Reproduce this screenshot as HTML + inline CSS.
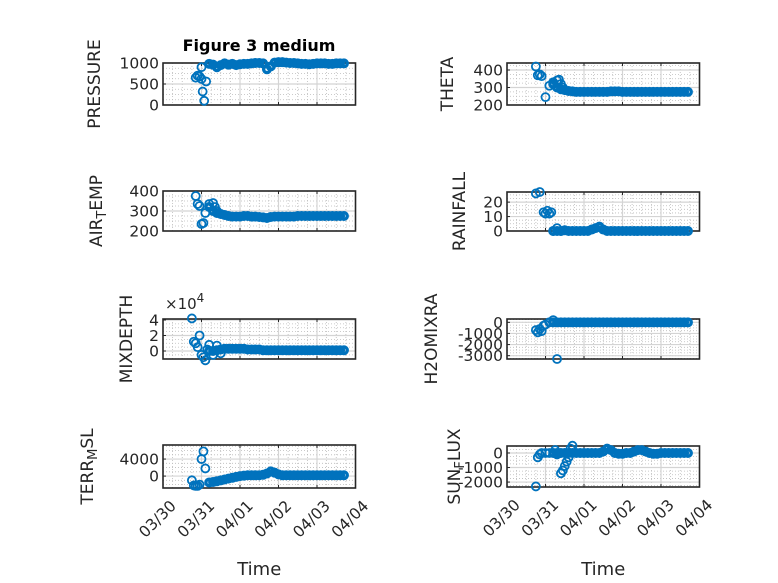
<!DOCTYPE html>
<html><head><meta charset="utf-8"><style>
html,body{margin:0;padding:0;background:#fff;}
svg{display:block;font-family:"DejaVu Sans","Liberation Sans",sans-serif;}
</style></head><body>
<svg id="fig" width="778" height="583" viewBox="0 0 778 583" xmlns="http://www.w3.org/2000/svg">
<rect width="778" height="583" fill="#fff"/>
<text x="259" y="51" text-anchor="middle" font-size="16" font-weight="bold" fill="#000">Figure 3 medium</text>
</svg>
<script>
// shared time axis (days since 03/30)
const xTickLabels = ["03/30","03/31","04/01","04/02","04/03","04/04"];
const denseTimes = [1.2,1.3,1.4,1.5,1.6,1.7,1.8,1.9,2.0,2.1,2.2,2.3,2.4,2.5,2.6,2.7,2.8,2.9,3.0,3.1,3.2,3.3,3.4,3.5,3.6,3.7,3.8,3.9,4.0,4.1,4.2,4.3,4.4,4.5,4.6,4.7];

const pressureEarlyT = [0.85,0.9,0.95,1.0,1.03,1.07,1.12,1.0];
const pressureEarlyV = [650,700,680,620,320,100,560,900];
const pressureDense = [980,960,900,950,990,960,980,950,970,980,980,990,1000,1000,990,850,920,1010,1020,1020,1010,1000,1000,990,980,980,970,980,990,990,990,980,980,990,990,990];

const airEarlyT = [0.85,0.9,0.95,1.0,1.05,1.1,1.2,1.3,1.35,1.4];
const airEarlyV = [375,335,325,235,240,290,335,340,320,300];
const airDense = [320,300,290,285,280,275,272,272,272,275,275,272,272,270,268,265,270,272,272,272,272,272,272,275,275,275,275,275,275,275,275,275,275,275,275,275];

const mixEarlyT = [0.75,0.8,0.85,0.9,0.95,1.0,1.05,1.1,1.15,1.2,1.3,1.4,1.5];
const mixEarlyV = [4.2,1.2,1.0,0.5,2.0,-0.5,-0.8,-1.2,0.2,0.8,-0.5,0.7,-0.3];
const mixDense = [0,0,0.1,0.2,0.3,0.3,0.3,0.3,0.3,0.3,0.2,0.2,0.2,0.2,0.1,0.1,0.1,0.1,0.1,0.1,0.1,0.1,0.1,0.1,0.1,0.1,0.1,0.1,0.1,0.1,0.1,0.1,0.1,0.1,0.1,0.1];

const terrEarlyT = [0.75,0.8,0.85,0.9,0.95,1.0,1.05,1.1];
const terrEarlyV = [-1000,-2200,-2300,-2300,-2000,4000,5800,1800];
const terrDense = [-1500,-1400,-1200,-1000,-800,-600,-400,-200,0,100,200,200,200,200,300,600,1100,800,400,200,200,200,200,200,200,200,200,200,200,200,200,200,200,200,200,200];

const thetaEarlyT = [0.75,0.8,0.85,0.9,1.0,1.1,1.2,1.3,1.35,1.4,1.45];
const thetaEarlyV = [420,370,375,365,245,310,330,340,345,320,300];
const thetaDense = [320,300,290,285,280,278,275,275,275,275,275,275,275,275,275,278,278,278,275,275,275,275,275,275,275,275,275,275,275,275,275,275,275,275,275,275];

const rainEarlyT = [0.75,0.85,0.95,1.0,1.05,1.1,1.15,1.2,1.3,1.4];
const rainEarlyV = [26,27,13,12,14,12,13,0,2,0];
const rainDense = [0,0,0,0.5,0,0,0,0,0,0,1,2,3,1,0,0,0,0,0,0,0,0,0,0,0,0,0,0,0,0,0,0,0,0,0,0];

const h2oEarlyT = [0.75,0.8,0.85,0.9,0.95,1.0,1.1,1.2,1.3];
const h2oEarlyV = [-700,-900,-600,-800,-300,-200,0,200,-3300];
const h2oDense = [0,0,0,0,0,0,0,0,0,0,0,0,0,0,0,0,0,0,0,0,0,0,0,0,0,0,0,0,0,0,0,0,0,0,0,0];

const sunEarlyT = [0.75,0.8,0.85,0.9,1.0,1.1,1.25,1.3,1.4,1.45,1.5,1.55,1.6,1.65,1.7];
const sunEarlyV = [-2300,-300,-100,0,0,0,200,-100,-1400,-1200,-900,-600,-300,300,500];
const sunDense = [0,0,0,0,0,0,0,0,0,0,0,0,0,100,300,200,0,-50,-50,0,0,100,200,200,100,0,-50,-50,0,0,0,0,0,0,0,0];

const NS="http://www.w3.org/2000/svg";
const svg=document.getElementById('fig');
function mk(tag,attrs,parent){const e=document.createElementNS(NS,tag);for(const k in attrs)e.setAttribute(k,attrs[k]);(parent||svg).appendChild(e);return e;}

const panels=[
 {name:'pressure',x0:163,y0:63,y1:105,ymin:0,ymax:1000,ticks:[0,500,1000],label:['PRESSURE'],lx:95,eT:pressureEarlyT,eV:pressureEarlyV,d:pressureDense,bottom:false},
 {name:'air-temp',x0:163,y0:191,y1:231,ymin:200,ymax:400,ticks:[200,300,400],label:['AIR','T','EMP'],lx:97,eT:airEarlyT,eV:airEarlyV,d:airDense,bottom:false},
 {name:'mixdepth',x0:163,y0:319,y1:359,ymin:-1.03,ymax:4.13,ticks:[0,2,4],label:['MIXDEPTH'],lx:127,eT:mixEarlyT,eV:mixEarlyV,d:mixDense,bottom:false,exp:true},
 {name:'terr-msl',x0:163,y0:445,y1:488,ymin:-2800,ymax:7300,ticks:[0,4000],label:['TERR','M','SL'],lx:88,eT:terrEarlyT,eV:terrEarlyV,d:terrDense,bottom:true},
 {name:'theta',x0:507,y0:63,y1:105,ymin:200,ymax:440,ticks:[200,300,400],label:['THETA'],lx:448,eT:thetaEarlyT,eV:thetaEarlyV,d:thetaDense,bottom:false},
 {name:'rainfall',x0:507,y0:192,y1:231,ymin:0,ymax:27,ticks:[0,10,20],label:['RAINFALL'],lx:460,eT:rainEarlyT,eV:rainEarlyV,d:rainDense,bottom:false},
 {name:'h2omixra',x0:507,y0:319,y1:359,ymin:-3300,ymax:300,ticks:[-3000,-2000,-1000,0],label:['H2OMIXRA'],lx:432,eT:h2oEarlyT,eV:h2oEarlyV,d:h2oDense,bottom:false},
 {name:'sun-flux',x0:507,y0:446,y1:487,ymin:-2340,ymax:480,ticks:[-2000,-1000,0],label:['SUN','F','LUX'],lx:455,eT:sunEarlyT,eV:sunEarlyV,d:sunDense,bottom:true}
];
const W=192.5, DAYS=5;
panels.forEach(p=>{
  const g=mk('g',{});
  
  
  const sx=t=>p.x0+t/DAYS*W;
  const sy=v=>p.y1-(v-p.ymin)/(p.ymax-p.ymin)*(p.y1-p.y0);
  for(let i=0;i<=DAYS*4;i++){if(i%4===0)continue;const x=sx(i/4);
    mk('line',{x1:x,x2:x,y1:p.y0,y2:p.y1,stroke:'#bbbbbb','stroke-width':0.8,'stroke-dasharray':'1,2'},g);}
  const step=p.ticks.length>1?p.ticks[1]-p.ticks[0]:1;
  for(let v=p.ticks[0]-step*4;v<=p.ymax;v+=step/4){if(v<p.ymin)continue;const y=sy(v);
    mk('line',{x1:p.x0,x2:p.x0+W,y1:y,y2:y,stroke:'#bbbbbb','stroke-width':0.8,'stroke-dasharray':'1,2'},g);}
  for(let i=1;i<DAYS;i++){const x=sx(i);mk('line',{x1:x,x2:x,y1:p.y0,y2:p.y1,stroke:'#d4d4d4','stroke-width':1.2},g);}
  p.ticks.forEach(v=>{const y=sy(v);mk('line',{x1:p.x0,x2:p.x0+W,y1:y,y2:y,stroke:'#d4d4d4','stroke-width':1.2},g);});
  mk('rect',{x:p.x0,y:p.y0,width:W,height:p.y1-p.y0,fill:'none',stroke:'#262626','stroke-width':1.6},g);
  for(let i=0;i<=DAYS;i++){const x=sx(i);
    mk('line',{x1:x,x2:x,y1:p.y1,y2:p.y1-3,stroke:'#262626'},g);
    mk('line',{x1:x,x2:x,y1:p.y0,y2:p.y0+3,stroke:'#262626'},g);}
  p.ticks.forEach(v=>{const y=sy(v);
    mk('line',{x1:p.x0,x2:p.x0+3,y1:y,y2:y,stroke:'#262626'},g);
    const t=mk('text',{x:p.x0-4,y:y+5.5,'text-anchor':'end','font-size':15.5,fill:'#262626'},g);
    
    
    t.textContent=String(v);});
  if(p.exp){const t=mk('text',{x:p.x0+2,y:p.y0-10,'font-size':15,fill:'#262626'},g);
    
    
    t.innerHTML='×10<tspan dy="-7" font-size="12">4</tspan>';}
  const cy=(p.y0+p.y1)/2;
  const lt=mk('text',{transform:`translate(${p.lx},${cy}) rotate(-90)`,'text-anchor':'middle','dominant-baseline':'central','font-size':17,fill:'#262626'},g);
  
  
  if(p.label.length===1)lt.textContent=p.label[0];
  else lt.innerHTML=p.label[0]+'<tspan dy="5" font-size="13">'+p.label[1]+'</tspan><tspan dy="-5">'+p.label[2]+'</tspan>';
  if(p.bottom){
    xTickLabels.forEach((s,i)=>{const x=sx(i);
      const t=mk('text',{transform:`translate(${x+6},${p.y1+11}) rotate(-45)`,'text-anchor':'end','dominant-baseline':'hanging','font-size':15.5,fill:'#262626'},g);
      
      
      t.textContent=s;});
    const xl=mk('text',{x:p.x0+W/2,y:575,'text-anchor':'middle','font-size':18,fill:'#262626'},g);
    
    
    xl.textContent='Time';
  }
  const mg=mk('g',{fill:'none',stroke:'#0072BD'},g);
  
  
  p.d.forEach((v,i)=>{const c=mk('circle',{cx:sx(denseTimes[i]),cy:sy(v),r:3.3,'stroke-width':3.4},mg);
    
    });
  p.eT.forEach((t,i)=>{const c=mk('circle',{cx:sx(t),cy:sy(p.eV[i]),r:4,'stroke-width':1.8},mg);
    
    });
});
</script>
</body></html>
